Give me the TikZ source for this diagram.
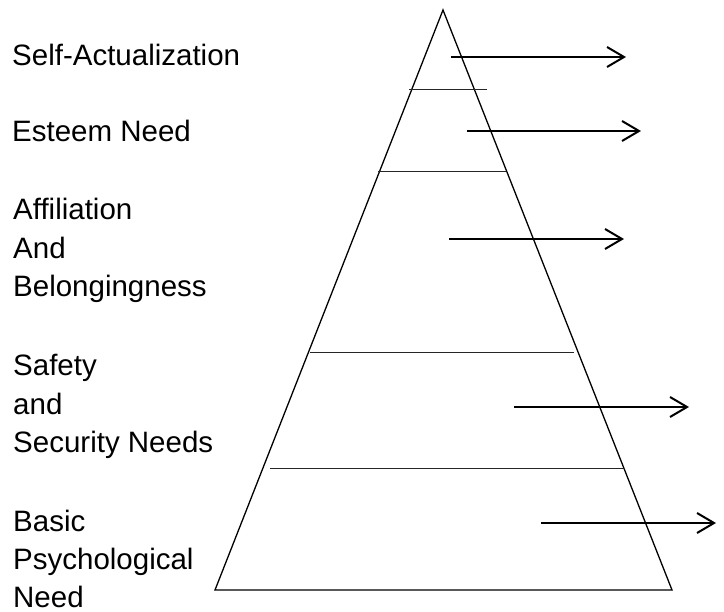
\documentclass[tikz,border=0pt]{standalone}
\usepackage{fontspec}
\setmainfont{Liberation Sans}
\usetikzlibrary{arrows.meta}
\begin{document}
\begin{tikzpicture}[x=1pt,y=-1pt,
  lbl/.style={anchor=base west, inner sep=0pt, align=left, font=\fontsize{29.5}{38.5}\selectfont},
  side/.style={line width=1.3pt, line join=miter},
  tier/.style={line width=1pt, black!85},
  pointer/.style={line width=2pt, -{Straight Barb[length=17pt,width=20pt,line width=2pt]}}]
\useasboundingbox (0,0) rectangle (724,612);
% pyramid
\coordinate (apex) at (443,10);
\coordinate (bl) at (215,590);
\coordinate (br) at (672,590);
\draw[side] (apex) -- (bl) -- (br) -- cycle;
% tier lines
\coordinate (t1l) at (409,90);  \coordinate (t1r) at (487,90);
\coordinate (t2l) at (378,172); \coordinate (t2r) at (506,172);
\coordinate (t3l) at (310,353); \coordinate (t3r) at (574,353);
\coordinate (t4l) at (270,469); \coordinate (t4r) at (624,469);
\draw[tier] (t1l) -- (t1r);
\draw[tier] (t2l) -- (t2r);
\draw[tier] (t3l) -- (t3r);
\draw[tier] (t4l) -- (t4r);
% arrows
\coordinate (a1s) at (451,57);  \coordinate (a1e) at (626,57);
\coordinate (a2s) at (467,131); \coordinate (a2e) at (641,131);
\coordinate (a3s) at (449,239); \coordinate (a3e) at (624,239);
\coordinate (a4s) at (514,407); \coordinate (a4e) at (689,407);
\coordinate (a5s) at (541,523); \coordinate (a5e) at (716,523);
\draw[pointer] (a1s) -- (a1e);
\draw[pointer] (a2s) -- (a2e);
\draw[pointer] (a3s) -- (a3e);
\draw[pointer] (a4s) -- (a4e);
\draw[pointer] (a5s) -- (a5e);
% labels (base anchor = baseline of last line)
\node[lbl] (selfact) at (12,66) {Self-Actualization};
\node[lbl] (esteem) at (12,142) {Esteem Need};
\node[lbl] (affil) at (13,297) {Affiliation\\And\\Belongingness};
\node[lbl] (safety) at (13,453) {Safety\\and\\Security Needs};
\node[lbl] (basic) at (13,608) {Basic\\Psychological\\Need};
\end{tikzpicture}
\end{document}
